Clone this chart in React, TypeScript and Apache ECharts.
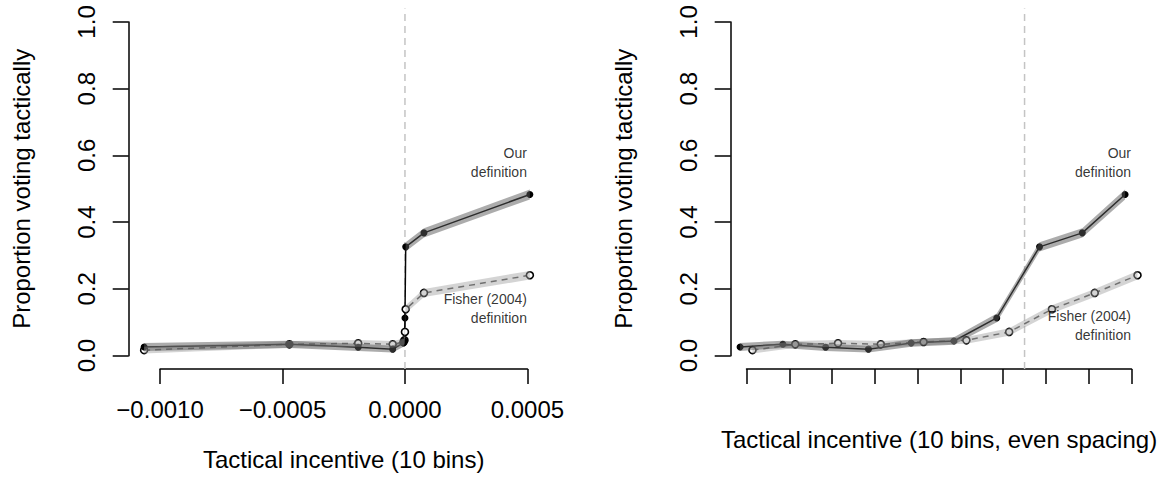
import React, { useEffect, useRef } from "react";
import * as echarts from "echarts";

// Left panel: mean tactical incentive of each of the 10 bins
const binIncentive = [-0.001065, -0.000472, -0.000191, -0.00005, -0.000006, -0.000002, 0, 0.000003, 0.0000776, 0.00051];
// Right panel: bin number (even spacing), two definitions drawn side by side
const binNumber = [1, 2, 3, 4, 5, 6, 7, 8, 9, 10];
const ourOffset = -0.15;
const fisherOffset = 0.14;
// Proportions voting tactically
const ourDefinition = [0.026, 0.034, 0.025, 0.0195, 0.038, 0.044, 0.113, 0.326, 0.368, 0.483];
const fisherDefinition = [0.0165, 0.034, 0.037, 0.034, 0.041, 0.046, 0.071, 0.139, 0.188, 0.241];
// Confidence band half-widths
const ourHalfWidth = [0.012, 0.011, 0.011, 0.010, 0.011, 0.011, 0.013, 0.014, 0.014, 0.015];
const fisherHalfWidth = [0.010, 0.010, 0.010, 0.010, 0.010, 0.010, 0.011, 0.012, 0.012, 0.013];
// Threshold (dashed) lines
const leftThreshold = 0;
const rightThreshold = 7.5;
// Annotation anchors [x, y]
const leftOurLabel = [0.0005, 0.58];
const leftFisherLabel = [0.0005, 0.14];
const rightOurLabel = [10, 0.58];
const rightFisherLabel = [10, 0.089];
// Axis ranges
const xLimLeft = [-0.001128, 0.000573];
const xLimRight = [0.631, 10.369];
const yLim = [-0.04, 1.04];
const leftTickRange = [-0.001, 0.0005, 0.0005]; // min, max, step
const rightTickRange = [1, 10, 1];
const yTickRange = [0, 1, 0.2];

const FONT = "'Liberation Sans', Arial, Helvetica, sans-serif";
const PLOT_LEFT = [128.7, 730.7];
const PLOT_TOP = 8.6;
const PLOT_W = 416.6;
const PLOT_H = 360.4;
const AXIS_FONT = 24;

function bandSeries(idx: number, xs: number[], ys: number[], half: number[], fill: string) {
  const rows = xs.map((x, i) => [x, ys[i] - half[i], ys[i] + half[i]]);
  return {
    type: "custom",
    xAxisIndex: idx,
    yAxisIndex: idx,
    data: rows,
    encode: { x: 0, y: [1, 2] },
    silent: true,
    z: 3,
    renderItem: (params: any, api: any) => {
      if (params.dataIndex !== 0) return null;
      const lower = rows.map((r) => api.coord([r[0], r[1]]));
      const upper = rows.map((r) => api.coord([r[0], r[2]])).reverse();
      return {
        type: "polygon",
        shape: { points: lower.concat(upper) },
        style: { fill, stroke: "none" },
      };
    },
  };
}

function panelSeries(idx: number, xs1: number[], xs2: number[], vx: number, ourLab: number[], fishLab: number[]) {
  const our = xs1.map((x, i) => [x, ourDefinition[i]]);
  const fisher = xs2.map((x, i) => [x, fisherDefinition[i]]);
  const base = { xAxisIndex: idx, yAxisIndex: idx };
  return [
    {
      ...base,
      type: "line",
      data: [[vx, yLim[0]], [vx, yLim[1]]],
      symbol: "none",
      lineStyle: { color: "#c4c4c4", width: 1.5, type: [7, 5] },
      z: 1,
      silent: true,
    },
    {
      ...base,
      type: "line",
      data: fisher,
      symbol: "circle",
      symbolSize: 7,
      showSymbol: true,
      itemStyle: { color: "#fff", borderColor: "#000", borderWidth: 1.6 },
      lineStyle: { color: "#4a4a4a", width: 1.5, type: [6, 5] },
      z: 2,
    },
    {
      ...base,
      type: "line",
      data: our,
      symbol: "circle",
      symbolSize: 7,
      showSymbol: true,
      itemStyle: { color: "#000" },
      lineStyle: { color: "#000", width: 1.5 },
      z: 2,
    },
    bandSeries(idx, xs2, fisherDefinition, fisherHalfWidth, "rgba(160,160,160,0.45)"),
    bandSeries(idx, xs1, ourDefinition, ourHalfWidth, "rgba(90,90,90,0.5)"),
    {
      ...base,
      type: "scatter",
      symbolSize: 1,
      itemStyle: { color: "rgba(0,0,0,0)" },
      z: 4,
      data: [
        { value: ourLab, name: "Our\ndefinition" },
        { value: fishLab, name: "Fisher (2004)\ndefinition" },
      ],
      label: {
        show: true,
        position: "left",
        distance: 0,
        align: "right",
        formatter: (p: any) => p.name,
        fontSize: 14,
        lineHeight: 19,
        color: "#000",
        fontFamily: FONT,
      },
    },
  ];
}

function dataGrid(p: number) {
  return { left: PLOT_LEFT[p], top: PLOT_TOP, width: PLOT_W, height: PLOT_H, containLabel: false };
}

function displayGrid(p: number, xLim: number[], ticks: number[]) {
  const left = PLOT_LEFT[p] + ((ticks[0] - xLim[0]) / (xLim[1] - xLim[0])) * PLOT_W;
  const width = ((ticks[1] - ticks[0]) / (xLim[1] - xLim[0])) * PLOT_W;
  const top = PLOT_TOP + ((yLim[1] - yTickRange[1]) / (yLim[1] - yLim[0])) * PLOT_H;
  const height = ((yTickRange[1] - yTickRange[0]) / (yLim[1] - yLim[0])) * PLOT_H;
  return { left, top, width, height, containLabel: false };
}

const axisLineStyle = { color: "#000", width: 1.5 };

export default function App() {
  const ref = useRef<HTMLDivElement>(null);
  useEffect(() => {
    document.body.style.margin = "0";
    const chart = echarts.init(ref.current!, undefined, { renderer: "svg" });
    const rightOur = binNumber.map((b) => b + ourOffset);
    const rightFisher = binNumber.map((b) => b + fisherOffset);
    const grids = [
      dataGrid(0),
      displayGrid(0, xLimLeft, leftTickRange),
      dataGrid(1),
      displayGrid(1, xLimRight, rightTickRange),
    ];
    const plotBottom = PLOT_TOP + PLOT_H;
    const xOffset = (g: any) => plotBottom - (g.top + g.height);
    const yOffset = (g: any, p: number) => g.left - PLOT_LEFT[p];

    const hiddenX = (gi: number, lim: number[]) => ({
      type: "value", gridIndex: gi, min: lim[0], max: lim[1], show: false,
      axisLine: { show: false, onZero: false }, splitLine: { show: false },
    });
    const hiddenY = (gi: number) => ({
      type: "value", gridIndex: gi, min: yLim[0], max: yLim[1], show: false,
      axisLine: { show: false, onZero: false }, splitLine: { show: false },
    });

    const dispY = (gi: number, p: number) => ({
      type: "value",
      gridIndex: gi,
      position: "left",
      min: yTickRange[0],
      max: yTickRange[1],
      interval: yTickRange[2],
      offset: yOffset(grids[gi], p),
      splitLine: { show: false },
      axisLine: { show: true, onZero: false, lineStyle: axisLineStyle },
      axisTick: { show: true, length: 16, lineStyle: axisLineStyle },
      axisLabel: {
        rotate: 90,
        fontSize: AXIS_FONT,
        color: "#000",
        fontFamily: FONT,
        margin: 30,
        showMinLabel: true,
        showMaxLabel: true,
        formatter: (v: number) => v.toFixed(1),
      },
      name: "Proportion voting tactically",
      nameLocation: "middle",
      nameRotate: 90,
      nameGap: 95,
      nameTextStyle: { fontSize: AXIS_FONT, color: "#000", fontFamily: FONT },
    });

    chart.setOption({
      animation: false,
      backgroundColor: "#fff",
      textStyle: { fontFamily: FONT },
      grid: grids,
      xAxis: [
        hiddenX(0, xLimLeft),
        {
          type: "value",
          gridIndex: 1,
          position: "bottom",
          min: leftTickRange[0],
          max: leftTickRange[1],
          interval: leftTickRange[2],
          offset: xOffset(grids[1]),
          splitLine: { show: false },
          axisLine: { show: true, onZero: false, lineStyle: axisLineStyle },
          axisTick: { show: true, length: 15, lineStyle: axisLineStyle },
          axisLabel: {
            fontSize: AXIS_FONT,
            color: "#000",
            fontFamily: FONT,
            margin: 28,
            showMinLabel: true,
            showMaxLabel: true,
            formatter: (v: number) => {
              const r = Math.round(v * 1e4) / 1e4;
              if (r === 0) return "0.0000";
              return (r < 0 ? "\u2212" : "") + Math.abs(r).toFixed(4);
            },
          },
          name: "Tactical incentive (10 bins)",
          nameLocation: "middle",
          nameGap: 78,
          nameTextStyle: { fontSize: AXIS_FONT, color: "#000", fontFamily: FONT },
        },
        hiddenX(2, xLimRight),
        {
          type: "value",
          gridIndex: 3,
          position: "bottom",
          min: rightTickRange[0],
          max: rightTickRange[1],
          interval: rightTickRange[2],
          offset: xOffset(grids[3]),
          splitLine: { show: false },
          axisLine: { show: true, onZero: false, lineStyle: axisLineStyle },
          axisTick: { show: true, length: 15, lineStyle: axisLineStyle },
          axisLabel: { show: false },
          name: "Tactical incentive (10 bins, even spacing)",
          nameLocation: "middle",
          nameGap: 58,
          nameTextStyle: { fontSize: AXIS_FONT, color: "#000", fontFamily: FONT },
        },
      ],
      yAxis: [hiddenY(0), dispY(1, 0), hiddenY(2), dispY(3, 1)],
      series: [
        ...panelSeries(0, binIncentive, binIncentive, leftThreshold, leftOurLabel, leftFisherLabel),
        ...panelSeries(2, rightOur, rightFisher, rightThreshold, rightOurLabel, rightFisherLabel),
      ],
    });
    return () => chart.dispose();
  }, []);
  return <div ref={ref} style={{ width: 1164, height: 495 }} />;
}
